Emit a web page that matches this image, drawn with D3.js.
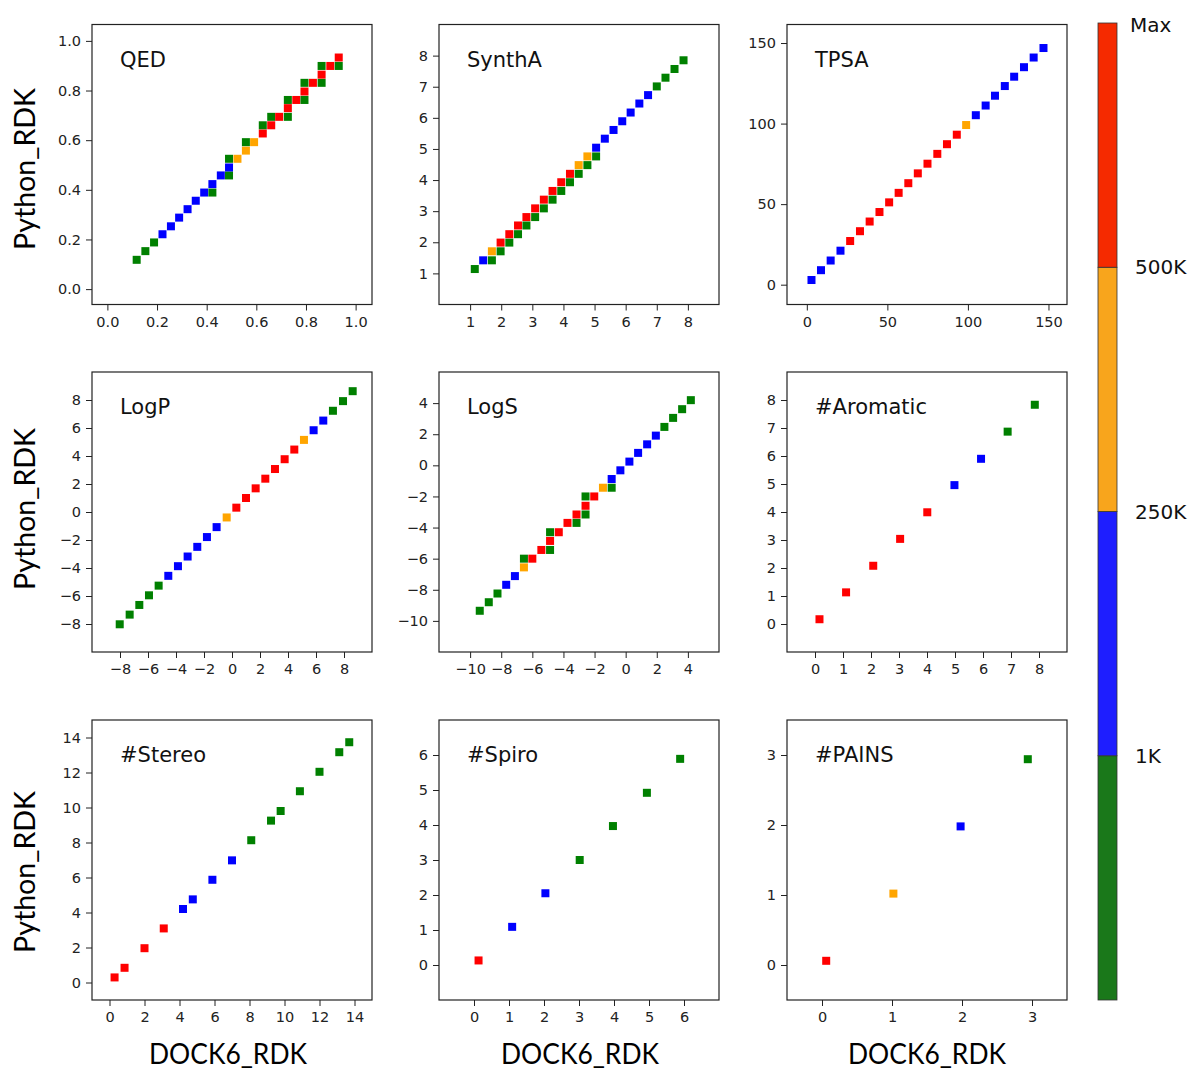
<!DOCTYPE html>
<html>
<head>
<meta charset="utf-8">
<script src="https://cdn.jsdelivr.net/npm/d3@7"></script>
<style>
  body { margin: 0; background: #fff; }
  svg { display: block; }
</style>
</head>
<body>
<svg id="chart"></svg>
<script>
// count bins: 0 = <1K (green), 1 = 1K-250K (blue), 2 = 250K-500K (orange), 3 = 500K-Max (red)
const binColors = ['#008000', '#0000ff', '#ffa500', '#ff0000']
const barColors = ['#1a781a', '#1e1eff', '#f8a51c', '#f52a00']
const barLabels = ['1K', '250K', '500K', 'Max']

const qedX = [0.118,0.153,0.188,0.222,0.256,0.289,0.323,0.356,0.390,0.423,0.423,0.457,0.490,0.490,0.490,0.524,0.558,0.558,0.591,0.626,0.626,0.660,0.660,0.692,0.727,0.727,0.727,0.761,0.794,0.794,0.794,0.828,0.863,0.863,0.863,0.898,0.932,0.932]
const qedY = [0.118,0.153,0.188,0.221,0.253,0.288,0.322,0.356,0.389,0.389,0.423,0.458,0.458,0.490,0.525,0.525,0.558,0.592,0.592,0.627,0.660,0.660,0.694,0.694,0.694,0.729,0.762,0.762,0.762,0.796,0.831,0.831,0.831,0.864,0.899,0.899,0.899,0.933]
const qedBin = [0,0,0,1,1,1,1,1,1,0,1,1,0,1,0,2,2,0,2,3,0,3,0,3,0,3,0,3,0,3,0,3,0,3,0,3,0,3]

const synthX = [1.15,1.42,1.70,1.70,1.98,1.98,2.26,2.26,2.54,2.54,2.81,2.81,3.09,3.09,3.37,3.37,3.65,3.65,3.93,3.93,4.21,4.21,4.49,4.49,4.77,4.77,5.05,5.05,5.33,5.61,5.89,6.16,6.44,6.72,7.00,7.28,7.57,7.86]
const synthY = [1.14,1.42,1.42,1.71,1.71,1.99,1.99,2.26,2.26,2.54,2.54,2.81,2.81,3.09,3.09,3.37,3.37,3.65,3.65,3.93,3.93,4.20,4.20,4.48,4.48,4.76,4.76,5.04,5.33,5.61,5.89,6.17,6.46,6.73,7.01,7.29,7.57,7.85]
const synthBin = [0,1,0,2,0,3,0,3,0,3,0,3,0,3,0,3,0,3,0,3,0,3,0,2,0,2,0,1,1,1,1,1,1,1,0,0,0,0]

const tpsaX = [2.9,8.8,14.8,20.9,26.9,33.0,39.0,45.1,51.1,57.0,63.0,68.9,74.9,81.0,87.0,93.1,98.9,104.9,111.0,116.8,122.9,128.7,134.8,140.8,146.9]
const tpsaY = [2.9,9.0,15.0,21.1,27.1,33.2,39.2,45.1,51.1,57.0,63.0,69.1,75.1,81.2,87.2,93.1,99.1,105.2,111.2,117.3,123.3,129.1,135.0,141.0,146.9]
const tpsaBin = [1,1,1,1,3,3,3,3,3,3,3,3,3,3,3,3,2,1,1,1,1,1,1,1,1]

const logpX = [-8.02,-7.31,-6.62,-5.93,-5.24,-4.55,-3.86,-3.17,-2.48,-1.79,-1.10,-0.38,0.31,1.00,1.69,2.38,3.07,3.76,4.45,5.14,5.83,6.52,7.21,7.93,8.62]
const logpY = [-8.02,-7.33,-6.64,-5.95,-5.26,-4.56,-3.87,-3.18,-2.49,-1.79,-1.08,-0.39,0.31,1.00,1.69,2.38,3.07,3.77,4.46,5.15,5.84,6.53,7.23,7.92,8.63]
const logpBin = [0,0,0,0,0,1,1,1,1,1,1,2,3,3,3,3,3,3,3,2,1,1,0,0,0]

const logsX = [-9.38,-8.80,-8.24,-7.68,-7.12,-6.54,-6.54,-6.00,-5.42,-4.86,-4.86,-4.86,-4.30,-3.74,-3.16,-3.16,-2.58,-2.58,-2.58,-2.02,-1.46,-0.90,-0.90,-0.34,0.24,0.80,1.38,1.94,2.49,3.05,3.63,4.19]
const logsY = [-9.35,-8.80,-8.24,-7.68,-7.12,-6.56,-6.00,-6.00,-5.44,-5.44,-4.86,-4.30,-4.30,-3.70,-3.70,-3.16,-3.16,-2.60,-2.00,-2.00,-1.44,-1.44,-0.88,-0.32,0.24,0.80,1.35,1.91,2.47,3.05,3.61,4.19]
const logsBin = [0,0,0,1,1,2,0,3,3,0,3,0,3,3,0,3,0,3,0,3,2,0,1,1,1,1,1,1,0,0,0,0]

const aromX = [0.16,1.11,2.08,3.04,4.01,4.98,5.93,6.88,7.85]
const aromY = [0.17,1.13,2.08,3.04,3.99,4.96,5.90,6.87,7.83]
const aromBin = [3,3,3,3,3,1,1,0,0]

const stereoX = [0.29,0.86,2.00,3.10,4.20,4.76,5.88,7.00,8.10,9.23,9.78,10.88,12.00,13.13,13.70]
const stereoY = [0.29,0.84,1.96,3.09,4.20,4.75,5.87,6.98,8.13,9.25,9.80,10.93,12.04,13.16,13.73]
const stereoBin = [3,3,3,3,1,1,1,1,0,0,0,0,0,0,0]

const spiroX = [0.13,1.09,2.04,3.02,3.97,4.94,5.89]
const spiroY = [0.13,1.09,2.05,3.00,3.97,4.92,5.89]
const spiroBin = [3,1,1,0,0,0,0]

const painsX = [0.06,1.02,1.98,2.94]
const painsY = [0.06,1.02,1.98,2.94]
const painsBin = [3,2,1,0]

const panels = [
  { name: 'QED', x: qedX, y: qedY, bin: qedBin, dom: [-0.062, 1.066], ticks: [0, 0.2, 0.4, 0.6, 0.8, 1.0], fmt: '.1f' },
  { name: 'SynthA', x: synthX, y: synthY, bin: synthBin, dom: [0, 9], ticks: [1, 2, 3, 4, 5, 6, 7, 8], fmt: 'd' },
  { name: 'TPSA', x: tpsaX, y: tpsaY, bin: tpsaBin, dom: [-12.3, 161.5], ticks: [0, 50, 100, 150], fmt: 'd' },
  { name: 'LogP', x: logpX, y: logpY, bin: logpBin, dom: [-10, 10], ticks: [-8, -6, -4, -2, 0, 2, 4, 6, 8], fmt: 'd' },
  { name: 'LogS', x: logsX, y: logsY, bin: logsBin, dom: [-12, 6], ticks: [-10, -8, -6, -4, -2, 0, 2, 4], fmt: 'd' },
  { name: '#Aromatic', x: aromX, y: aromY, bin: aromBin, dom: [-1, 9], ticks: [0, 1, 2, 3, 4, 5, 6, 7, 8], fmt: 'd' },
  { name: '#Stereo', x: stereoX, y: stereoY, bin: stereoBin, dom: [-1, 15], ticks: [0, 2, 4, 6, 8, 10, 12, 14], fmt: 'd' },
  { name: '#Spiro', x: spiroX, y: spiroY, bin: spiroBin, dom: [-1, 7], ticks: [0, 1, 2, 3, 4, 5, 6], fmt: 'd' },
  { name: '#PAINS', x: painsX, y: painsY, bin: painsBin, dom: [-0.5, 3.5], ticks: [0, 1, 2, 3], fmt: 'd' }
]

const width = 1197
const height = 1069
const colLeft = [92, 439, 787]
const rowTop = [24.5, 372, 720]
const size = 280
const mark = 8
const tickFont = 'DejaVu Sans, sans-serif'
const labelFont = 'Lato, Open Sans, sans-serif'

const svg = d3.select('#chart').attr('width', width).attr('height', height)

panels.forEach((p, i) => {
  const left = colLeft[i % 3]
  const top = rowTop[Math.floor(i / 3)]
  const x = d3.scaleLinear().domain(p.dom).range([0, size])
  const y = d3.scaleLinear().domain(p.dom).range([size, 0])
  const g = svg.append('g').attr('transform', `translate(${left},${top})`)

  const xAxis = g.append('g')
    .attr('transform', `translate(0,${size})`)
    .call(d3.axisBottom(x).tickValues(p.ticks).tickFormat(d3.format(p.fmt)).tickSize(6).tickPadding(6))
  const yAxis = g.append('g')
    .call(d3.axisLeft(y).tickValues(p.ticks).tickFormat(d3.format(p.fmt)).tickSize(6).tickPadding(5))
  ;[xAxis, yAxis].forEach(a => {
    a.select('.domain').remove()
    a.selectAll('line').attr('stroke', '#222').attr('stroke-width', 1)
    a.selectAll('text').attr('fill', '#222').style('font-family', tickFont).style('font-size', '14.5px')
  })

  const pts = p.x.map((v, k) => ({ x: v, y: p.y[k], b: p.bin[k] }))
  g.append('g').selectAll('rect')
    .data(pts)
    .enter().append('rect')
    .attr('x', d => x(d.x) - mark / 2)
    .attr('y', d => y(d.y) - mark / 2)
    .attr('width', mark)
    .attr('height', mark)
    .attr('fill', d => binColors[d.b])

  g.append('rect')
    .attr('width', size).attr('height', size)
    .attr('fill', 'none').attr('stroke', '#222').attr('stroke-width', 1.2)

  g.append('text')
    .attr('x', 28).attr('y', 42)
    .style('font-family', tickFont).style('font-size', '21px')
    .attr('fill', '#111')
    .text(p.name)
})

// axis titles
const yLabelY = [169, 509, 872]
yLabelY.forEach(cy => {
  svg.append('text')
    .attr('transform', `translate(35,${cy}) rotate(-90)`)
    .attr('text-anchor', 'middle')
    .style('font-family', labelFont).style('font-size', '28px')
    .attr('textLength', 162).attr('lengthAdjust', 'spacingAndGlyphs')
    .text('Python_RDK')
})
const xLabelX = [228, 580, 927]
xLabelX.forEach(cx => {
  svg.append('text')
    .attr('x', cx).attr('y', 1064)
    .attr('text-anchor', 'middle')
    .style('font-family', labelFont).style('font-size', '28px')
    .attr('textLength', 158).attr('lengthAdjust', 'spacingAndGlyphs')
    .text('DOCK6_RDK')
})

// colour bar
const cb = d3.scaleLinear().domain([0, barColors.length]).range([1000, 23])
const bar = svg.append('g').attr('transform', 'translate(1098,0)')
bar.selectAll('rect')
  .data(barColors)
  .enter().append('rect')
  .attr('x', 0)
  .attr('y', (d, k) => cb(k + 1))
  .attr('width', 19)
  .attr('height', (d, k) => cb(k) - cb(k + 1))
  .attr('fill', d => d)
  .attr('stroke', '#333')
  .attr('stroke-width', 0.8)
bar.selectAll('text')
  .data(barLabels)
  .enter().append('text')
  .attr('x', (d, k) => k === 3 ? 32 : 37)
  .attr('y', (d, k) => k === 3 ? cb(k + 1) + 2 : cb(k + 1))
  .attr('dy', '0.35em')
  .style('font-family', 'DejaVu Sans, sans-serif').style('font-size', '20px')
  .attr('fill', '#111')
  .text(d => d)
</script>
</body>
</html>
